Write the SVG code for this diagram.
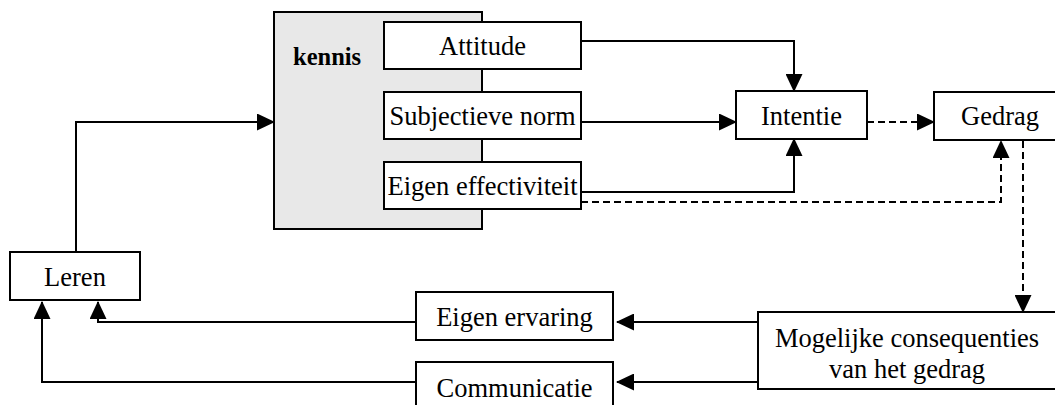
<svg xmlns="http://www.w3.org/2000/svg" width="1055" height="405" viewBox="0 0 1055 405">
  <defs>
    <marker id="head" markerUnits="userSpaceOnUse" markerWidth="18" markerHeight="17" refX="17" refY="8.5" orient="auto">
      <path d="M0,0 L18,8.5 L0,17 Z" fill="#000000"/>
    </marker>
  </defs>
  <rect width="1055" height="405" fill="#ffffff"/>

  <!-- boxes: white fill, 2px black outline; labels in a Times-style serif -->
  <g stroke="#000000" stroke-width="2" font-family="Liberation Serif, serif" font-size="26.5" text-anchor="middle">
    <g id="kennis">
      <rect x="274" y="12" width="208" height="217" fill="#e8e8e8"/>
      <text x="293" y="65" stroke="none" fill="#000000" text-anchor="start" font-size="24.5" font-weight="bold">kennis</text>
    </g>
    <g id="attitude">
      <rect x="384" y="22" width="197" height="47" fill="#ffffff"/>
      <text x="482.5" y="55" stroke="none" fill="#000000">Attitude</text>
    </g>
    <g id="subjectieve-norm">
      <rect x="384" y="92" width="197" height="47" fill="#ffffff"/>
      <text x="482.5" y="125" stroke="none" fill="#000000">Subjectieve norm</text>
    </g>
    <g id="eigen-effectiviteit">
      <rect x="384" y="162" width="197" height="47" fill="#ffffff"/>
      <text x="482.5" y="195" stroke="none" fill="#000000">Eigen effectiviteit</text>
    </g>
    <g id="intentie">
      <rect x="736" y="91" width="131" height="48" fill="#ffffff"/>
      <text x="801.5" y="124.5" stroke="none" fill="#000000">Intentie</text>
    </g>
    <g id="gedrag">
      <rect x="934" y="92" width="132" height="48" fill="#ffffff"/>
      <text x="1000" y="125" stroke="none" fill="#000000">Gedrag</text>
    </g>
    <g id="leren">
      <rect x="10" y="252" width="130" height="48" fill="#ffffff"/>
      <text x="75" y="285.5" stroke="none" fill="#000000">Leren</text>
    </g>
    <g id="eigen-ervaring">
      <rect x="416" y="292" width="197" height="48" fill="#ffffff"/>
      <text x="514.5" y="325.5" stroke="none" fill="#000000">Eigen ervaring</text>
    </g>
    <g id="communicatie">
      <rect x="416" y="362" width="197" height="50" fill="#ffffff"/>
      <text x="514.5" y="397" stroke="none" fill="#000000">Communicatie</text>
    </g>
    <g id="consequenties">
      <rect x="758" y="312" width="298" height="77" fill="#ffffff"/>
      <text x="907" y="347" stroke="none" fill="#000000">Mogelijke consequenties</text>
      <text x="907" y="378" stroke="none" fill="#000000">van het gedrag</text>
    </g>
  </g>

  <!-- connectors: solid influences, dashed behavioural links -->
  <g id="connectors" fill="none" stroke="#000000" stroke-width="2" marker-end="url(#head)">
    <path d="M76,252 V122 H274"/>
    <path d="M581,41 H794 V91"/>
    <path d="M581,122 H736"/>
    <path d="M581,192 H794 V139"/>
    <path d="M581,202 H1001 V141" stroke-dasharray="7 4"/>
    <path d="M867,122 H934" stroke-dasharray="7 4"/>
    <path d="M1023,141 V312" stroke-dasharray="7 4"/>
    <path d="M758,322 H617"/>
    <path d="M758,382 H617"/>
    <path d="M416,322 H98 V302"/>
    <path d="M416,382 H42 V302"/>
  </g>
</svg>
